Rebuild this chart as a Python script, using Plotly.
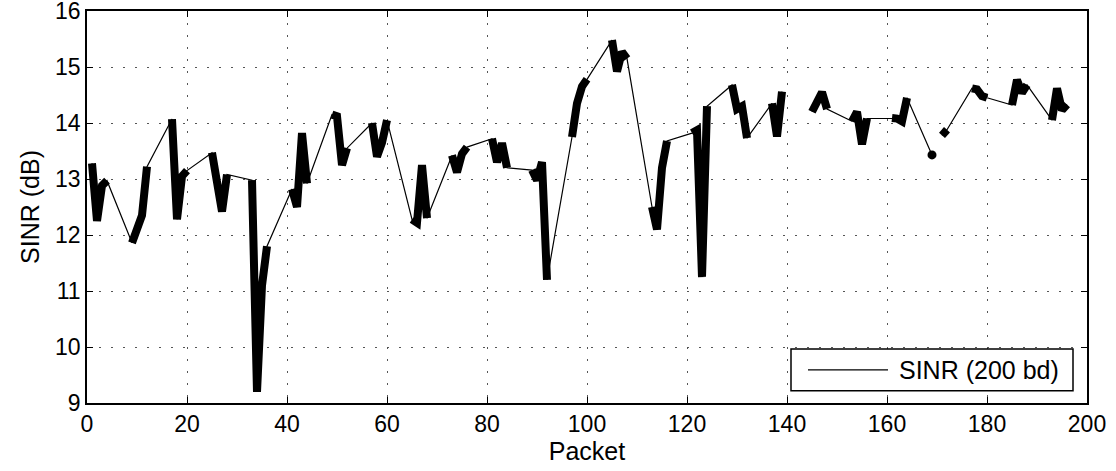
import plotly.graph_objects as go

# packets received in groups of 4 every 8 packets; None = missing in the group
packets = [1, 2, 3, 4, 9, 10, 11, 12, 17, 18, 19, 20, 25, 26, 27, 28,
           33, 34, 35, 36, 41, 42, 43, 44, 49, 50, 51, 52, 57, 58, 59, 60,
           65, 66, 67, 68, 73, 74, 75, 76, 81, 82, 83, 84, 89, 90, 91, 92,
           97, 98, 99, 100, 105, 106, 107, 108, 113, 114, 115, 116,
           121, 122, 123, 124, 129, 130, 131, 132, 137, 138, 139, 140,
           145, 146, 147, 148, 153, 154, 155, 156, 161, 162, 163, 164,
           169, 170, 171, 172, 177, 178, 179, 180, 185, 186, 187, 188,
           193, 194, 195, 196]
sinr = [13.28, 12.25, 12.88, 12.97, 11.86, 12.1, 12.35, 13.22,
        14.07, 12.28, 13.05, 13.15, 13.47, 12.95, 12.42, 13.08,
        12.98, 9.2, 11.1, 11.8, 12.82, 12.5, 13.82, 12.92,
        14.15, 14.12, 13.25, 13.55, 14.0, 13.4, 13.65, 14.05,
        12.28, 12.22, 13.25, 12.3, 13.42, 13.12, 13.45, 13.57,
        13.72, 13.3, 13.64, 13.2, 13.16, 12.98, 13.3, 11.2,
        13.75, 14.35, 14.65, 14.78, 15.48, 14.92, 15.27, 15.15,
        12.5, 12.1, 13.2, 13.68, 13.82, 13.87, 11.25, 14.3,
        14.68, 14.25, 14.3, 13.73, 14.35, 13.76, 14.56, None,
        14.2, 14.38, 14.55, 14.25, 14.03, 14.2, 13.62, 14.08,
        14.09, 14.08, 14.03, 14.45, 13.43, None, 13.78, 13.88,
        14.62, 14.6, 14.48, 14.45, 14.32, 14.77, 14.54, 14.68,
        14.05, 14.62, 14.23, 14.33]

xticks = [0, 20, 40, 60, 80, 100, 120, 140, 160, 180, 200]
yticks = [9, 10, 11, 12, 13, 14, 15, 16]

# thick line: break wherever packets are not consecutive
tx, ty = [], []
for i, (p, v) in enumerate(zip(packets, sinr)):
    if i > 0 and p - packets[i - 1] != 1:
        tx.append(None)
        ty.append(None)
    tx.append(p)
    ty.append(v)

# isolated points only show as a dot
iso_x, iso_y = [], []
for i, (p, v) in enumerate(zip(packets, sinr)):
    if v is None:
        continue
    prev_ok = i > 0 and packets[i - 1] == p - 1 and sinr[i - 1] is not None
    next_ok = i < len(packets) - 1 and packets[i + 1] == p + 1 and sinr[i + 1] is not None
    if not prev_ok and not next_ok:
        iso_x.append(p)
        iso_y.append(v)

fig = go.Figure()
fig.add_trace(go.Scatter(x=packets, y=sinr, mode="lines", connectgaps=False,
                         line=dict(color="black", width=1.2), name="SINR (200 bd)"))
fig.add_trace(go.Scatter(x=tx, y=ty, mode="lines", connectgaps=False,
                         line=dict(color="black", width=8), showlegend=False))
fig.add_trace(go.Scatter(x=iso_x, y=iso_y, mode="markers",
                         marker=dict(color="black", size=9), showlegend=False))

font = dict(family="Liberation Sans, Arial, Helvetica, sans-serif", size=25, color="black")
tickfont = dict(font, size=23)
axis = dict(showline=True, linecolor="black", linewidth=1.5, mirror="ticks",
            ticks="inside", ticklen=6, tickcolor="black", tickwidth=1,
            showgrid=True, gridcolor="#555", gridwidth=1, griddash="2px,10px",
            zeroline=False, tickfont=tickfont, automargin=False, ticklabeloverflow="allow")

fig.update_layout(
    width=1116, height=471,
    margin=dict(l=87, r=29, t=11, b=68),
    plot_bgcolor="white", paper_bgcolor="white",
    font=font, showlegend=False,
    xaxis=dict(axis, range=[0, 200], tickvals=xticks,
               title=dict(text="Packet", font=font, standoff=2)),
    yaxis=dict(axis, range=[9, 16], tickvals=yticks,
               title=dict(text="SINR (dB)", font=font, standoff=8)),
)

# legend box drawn like the MATLAB one
fig.add_shape(type="rect", xref="paper", yref="paper", x0=0.704, x1=0.986, y0=0.031, y1=0.138,
              line=dict(color="black", width=1.5), fillcolor="white", layer="above")
fig.add_shape(type="line", xref="paper", yref="paper", x0=0.721, x1=0.801, y0=0.0845, y1=0.0845,
              line=dict(color="black", width=1.2), layer="above")
fig.add_annotation(xref="paper", yref="paper", x=0.81, y=0.0845, xanchor="left", yanchor="middle",
                   text="SINR (200 bd)", showarrow=False, font=font)

fig.write_html("out.html", config={"displayModeBar": False},
               post_script="document.body.style.margin='0';")
